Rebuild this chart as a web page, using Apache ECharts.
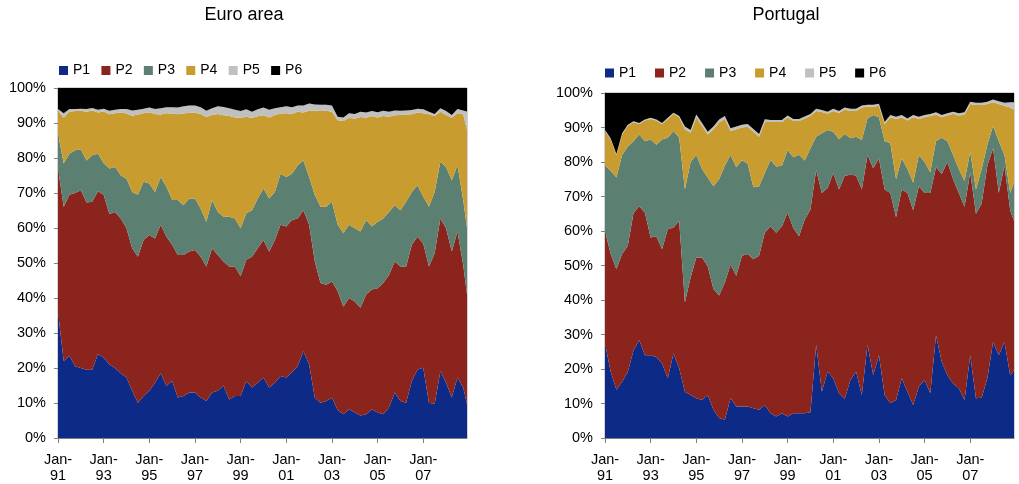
<!DOCTYPE html>
<html>
<head>
<meta charset="utf-8">
<script src="https://cdn.jsdelivr.net/npm/echarts@6/dist/echarts.min.js"></script>
<style>
  html, body { margin: 0; background: #fff; }
  #chart { width: 1019px; height: 484px; }
</style>
</head>
<body>
<div id="chart"></div>
<script>
// month index from Jan-91 (0) to Dec-08 (215), read every quarter
const months = [0, 3, 6, 9, 12, 15, 18, 21, 24, 27, 30, 33, 36, 39, 42, 45, 48, 51, 54, 57, 60, 63, 66, 69,
  72, 75, 78, 81, 84, 87, 90, 93, 96, 99, 102, 105, 108, 111, 114, 117, 120, 123, 126, 129, 132, 135, 138, 141,
  144, 147, 150, 153, 156, 159, 162, 165, 168, 171, 174, 177, 180, 183, 186, 189, 192, 195, 198, 201, 204, 207, 210, 213, 215]

const seriesNames = ["P1", "P2", "P3", "P4", "P5", "P6"]
const monthAbbr = ["Jan", "Feb", "Mar", "Apr", "May", "Jun", "Jul", "Aug", "Sep", "Oct", "Nov", "Dec"]

// Euro area: cumulative top edge of each band, in %
const euroTopP1 = [36, 22, 23.5, 20.5, 20, 19.5, 19.5, 24,
  23, 21, 20, 18.5, 17.3, 13.5, 10.1, 12,
  13.5, 15.8, 18.5, 14.9, 16.3, 11.6, 12, 13,
  13, 11.6, 10.6, 13, 13.5, 15, 11, 12,
  12, 16.3, 14.4, 15.8, 17.3, 14.4, 15.8, 17.7,
  17.3, 18.7, 20.6, 24.8, 21, 11.6, 10.1, 10.6,
  11.5, 8, 6.8, 8.2, 7.3, 6.4, 6.8, 8.2,
  7.3, 6.8, 8.7, 13, 10.6, 10.1, 16.3, 19.6,
  20.1, 10.1, 9.7, 19.1, 15.8, 11.6, 17.3, 14.4,
  9.7]
const euroTopP2 = [77, 66, 69.5, 70, 70.8, 67.3, 67.5, 70.5,
  69.5, 64, 64.6, 62.7, 59.9, 54.2, 51.8, 56.6,
  58, 57, 60.9, 57.5, 55.2, 52.3, 52.3, 53.3,
  53.7, 51.8, 49, 54.2, 52.3, 50.4, 49, 49,
  46.2, 50.9, 51.8, 54.2, 56.6, 53.3, 56.6, 60.9,
  60.4, 62.3, 62.7, 65.1, 60.9, 50.4, 44.3, 43.8,
  44.7, 42, 37.5, 40, 39, 37.2, 41, 42.4,
  42.8, 44.3, 46.6, 50.4, 49, 49, 55.2, 57.5,
  55.6, 49, 52.8, 62.7, 59.9, 53.3, 59, 49.5,
  41]
const euroTopP3 = [87, 78.4, 81.2, 82.2, 82.5, 79.3, 80.8, 81.2,
  78.5, 77, 77.4, 75.1, 74.1, 70.3, 69.5, 73.2,
  72.7, 70.3, 74.6, 71.8, 68, 68, 66.5, 68.4,
  68.4, 65.6, 61.8, 68, 64.6, 63.2, 63.2, 62.7,
  59.9, 64.2, 65.1, 68.4, 71.3, 68.4, 70.3, 75.5,
  74.6, 75.5, 77.9, 79.3, 74.6, 69.4, 66.1, 66.1,
  67.5, 61, 58.5, 60.9, 59.9, 59, 62.3, 60.4,
  61.8, 62.7, 64.6, 66.5, 65.1, 67.5, 70.3, 72.2,
  68.9, 66.1, 70.3, 78.9, 77.4, 73.6, 77.9, 68,
  60]
const euroTopP4 = [93.5, 91.5, 93.2, 93.4, 93.5, 93.2, 93.6, 93,
  93.3, 92.5, 92.8, 93, 92.7, 92.1, 92.4, 92.8,
  93.1, 92.6, 92.4, 92.8, 92.7, 92.5, 92.7, 92.9,
  92.9, 92.6, 91.7, 92.3, 92.6, 92.2, 92, 91.6,
  91.5, 91.8, 91.4, 91.9, 92.2, 91.6, 92.3, 92.7,
  92.8, 92.6, 93.2, 93, 93.5, 93.6, 93.4, 93.5,
  93.2, 90.8, 90.6, 91.5, 91.2, 91.7, 91.5, 92,
  91.6, 92, 91.8, 92.2, 92.3, 92.4, 92.5, 93,
  92.8, 92.5, 92, 93.2, 92.3, 91.5, 92.8, 92.5,
  88]
const euroTopP5 = [94, 92.8, 94, 94, 94.1, 94, 94.3, 93.8,
  94.1, 93.5, 93.8, 94, 94, 93.6, 93.8, 94.1,
  94.4, 94, 94.2, 94.5, 94.5, 94.4, 94.8, 95,
  95, 94.5, 93.5, 94.2, 94.8, 94.6, 94.2, 93.8,
  93.4, 93.9, 93.2, 93.9, 94.4, 93.8, 94.2, 94.5,
  94.8, 94.5, 95, 95, 95.6, 95.3, 95.2, 95.2,
  95, 91.8, 91.6, 92.8, 92.6, 93.2, 93, 93.4,
  93.1, 93.5, 93.2, 93.6, 93.5, 93.6, 93.7, 94.1,
  93.9, 93.2, 92.6, 94.2, 93.4, 92.3, 94, 93.6,
  93.3]

// Portugal: cumulative top edge of each band, in %
const ptTopP1 = [27.4, 19.2, 14, 16.3, 19.2, 25.4, 28.3, 24,
  24, 23.5, 21.6, 17.3, 24.5, 20.2, 13.4, 12.5,
  11.5, 11, 12.5, 8.2, 5.8, 5.3, 11.5, 9.1,
  9.1, 9.1, 8.6, 8.2, 9.6, 7.2, 6.2, 7.2,
  6.2, 7.2, 7.2, 7.2, 7.5, 27, 13.4, 19.2,
  17.3, 13, 11.3, 16.8, 19.2, 12.5, 27, 18.2,
  24, 12.5, 10.1, 11, 17.3, 13.4, 9.6, 14.9,
  16.8, 13, 29.8, 22.1, 18.2, 15.8, 14.4, 11,
  24, 11.5, 11.7, 17.3, 27.8, 24, 27.8, 18.2,
  19.7]
const ptTopP2 = [60, 53.3, 48.9, 53.3, 55.7, 65.3, 67.2, 65.3,
  58.1, 58.5, 54.7, 60.5, 61, 62.9, 39.3, 46.5,
  52.3, 52.3, 49.8, 43.2, 41.3, 45.1, 50.2, 47,
  52.8, 53.3, 51.8, 52.8, 59.5, 61.4, 59.5, 61.4,
  65.3, 60.9, 58.5, 63.3, 66.2, 77.7, 71, 72.5,
  76.8, 72, 76, 76.3, 76.1, 72, 82, 78.2,
  81, 72, 71, 64, 72, 71, 66, 73,
  71, 71, 78.5, 76.5, 80, 75, 71, 67,
  77, 65, 68, 79, 84, 71, 79, 66,
  63]
const ptTopP3 = [79, 77.5, 75.5, 82, 84.5, 86, 88, 86,
  86.5, 85, 86.5, 87, 89, 87, 72, 80,
  82, 78, 75.5, 73, 75, 79, 82, 78.5,
  80.5, 79.5, 72.7, 73, 76.8, 80.6, 78.7, 78.9,
  83.5, 81.4, 82.1, 80.4, 84, 87.3, 88.3, 89.3,
  88.8, 86.6, 88.1, 86.9, 87.3, 86.4, 92.6, 93.6,
  93, 86, 85.5, 75, 81, 78, 74, 82,
  80, 77, 86, 87, 86, 82, 78, 74.5,
  83, 72, 78, 85, 90.5, 86, 82, 71,
  74]
const ptTopP4 = [89, 86.5, 82, 88, 90.5, 91.5, 91, 92,
  92.5, 92, 91, 92.5, 94, 93, 89.5, 88.5,
  93, 90.5, 88, 89.5, 91.5, 92.5, 89, 89.5,
  90, 90.2, 88.8, 87.3, 91.6, 91.6, 91.6, 91.6,
  92.9, 91.9, 91.9, 92.6, 93.3, 94.8, 94.5, 94,
  94.8, 94.2, 95.2, 94.8, 94.8, 95.8, 96, 96,
  96.3, 91, 93, 92.5, 93, 92, 93, 92.5,
  93, 93.3, 93.8, 93, 93.5, 94, 93.5, 93.8,
  96.8, 96.5, 96.5, 96.8, 97.3, 96.8, 96.2, 95.8,
  95.2]
const ptTopP5 = [89.3, 86.8, 82.3, 88.3, 90.8, 91.8, 91.3, 92.3,
  92.8, 92.3, 91.3, 92.8, 94.3, 93.3, 90.3, 89.3,
  93.8, 91.3, 88.8, 90.3, 92.3, 93.3, 89.8, 90.3,
  90.8, 91, 89.6, 88.1, 92.4, 92.2, 92.2, 92.2,
  93.5, 92.5, 92.5, 93.2, 93.9, 95.4, 95.1, 94.6,
  95.4, 94.8, 95.8, 95.4, 95.4, 96.4, 96.6, 96.6,
  96.9, 91.6, 93.6, 93.1, 93.6, 92.6, 93.6, 93.1,
  93.6, 93.9, 94.4, 93.6, 94.1, 94.6, 94.1, 94.4,
  97.5, 97.2, 97.2, 97.5, 98.1, 97.6, 97.2, 97.3,
  97.3]

const bandColors = ["#0e2a87", "#8b241d", "#5b7f70", "#c99c30", "#c0c0c0", "#000000"]
const font = "Liberation Sans, Arial, sans-serif"

// monthly category axis Jan-91 .. Dec-08
const monthCats = []
for (let y = 1991; y <= 2008; y++) {
  monthAbbr.forEach((m) => monthCats.push(m + "-" + String(y % 100).padStart(2, "0")))
}

// turn the cumulative edges into per-band shares (P6 is what is left up to 100%)
function bandShares(tops) {
  const bands = []
  let below = months.map(() => 0)
  tops.forEach((top) => {
    bands.push(top.map((v, i) => v - below[i]))
    below = top
  })
  bands.push(below.map((v) => 100 - v))
  return bands
}

function bandSeries(tops, idx) {
  return bandShares(tops).map((vals, k) => ({
    name: seriesNames[k],
    type: "line",
    xAxisIndex: idx,
    yAxisIndex: idx,
    stack: "shares" + idx,
    data: months.map((m, i) => [m, vals[i]]),
    symbol: "none",
    lineStyle: { width: 0 },
    itemStyle: { color: bandColors[k] },
    areaStyle: { color: bandColors[k], opacity: 1 },
    silent: true
  }))
}

function xAxisFor(idx) {
  return {
    type: "category",
    gridIndex: idx,
    data: monthCats,
    boundaryGap: false,
    splitLine: { show: false },
    axisLine: { lineStyle: { color: "#808080" } },
    axisTick: { length: 5, interval: 23, lineStyle: { color: "#808080" } },
    axisLabel: {
      interval: 23,
      formatter: (v) => v.replace("-", "-\n"),
      color: "#000",
      fontSize: 14.5,
      fontFamily: font,
      lineHeight: 16,
      margin: 14
    }
  }
}

function yAxisFor(idx) {
  return {
    type: "value",
    gridIndex: idx,
    min: 0,
    max: 100,
    interval: 10,
    splitLine: { show: false },
    axisLine: { show: true, lineStyle: { color: "#808080" } },
    axisTick: { show: true, length: 4, lineStyle: { color: "#808080" } },
    axisLabel: { formatter: "{value}%", color: "#000", fontSize: 14.5, fontFamily: font, margin: 12 }
  }
}

function legendAt(left, top, gap) {
  return {
    data: seriesNames,
    left,
    top,
    padding: 0,
    orient: "horizontal",
    icon: "rect",
    itemWidth: 9,
    itemHeight: 9,
    itemGap: gap,
    selectedMode: false,
    textStyle: { fontSize: 14, color: "#000", fontFamily: font }
  }
}

const chart = echarts.init(document.getElementById("chart"))
chart.setOption({
  animation: false,
  backgroundColor: "#fff",
  graphic: [
    { type: "text", x: 244, y: 15, style: { text: "Euro area", align: "center", verticalAlign: "middle", fontSize: 18, fontFamily: font, fill: "#000" } },
    { type: "text", x: 786, y: 15, style: { text: "Portugal", align: "center", verticalAlign: "middle", fontSize: 18, fontFamily: font, fill: "#000" } }
  ],
  legend: [legendAt(59, 63.5, 11.3), legendAt(605, 66, 18.9)],
  grid: [
    { left: 58, right: 552, top: 88, bottom: 44, show: true, borderColor: "#a6a6a6", borderWidth: 1 },
    { left: 605, right: 5, top: 93, bottom: 44, show: true, borderColor: "#a6a6a6", borderWidth: 1 }
  ],
  xAxis: [xAxisFor(0), xAxisFor(1)],
  yAxis: [yAxisFor(0), yAxisFor(1)],
  series: [
    ...bandSeries([euroTopP1, euroTopP2, euroTopP3, euroTopP4, euroTopP5], 0),
    ...bandSeries([ptTopP1, ptTopP2, ptTopP3, ptTopP4, ptTopP5], 1)
  ]
})
</script>
</body>
</html>
